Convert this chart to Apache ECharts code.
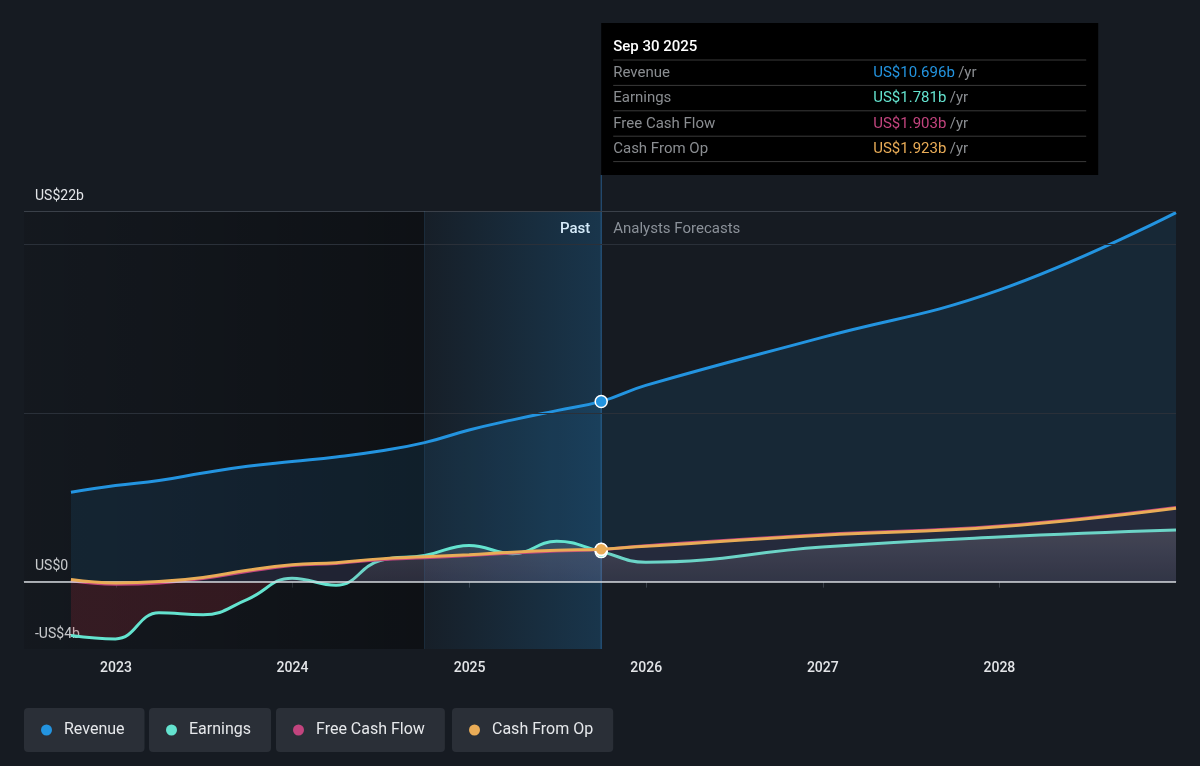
<!DOCTYPE html>
<html>
<head>
<meta charset="utf-8">
<script src="https://cdn.jsdelivr.net/npm/echarts@6/dist/echarts.min.js"></script>
<style>
  html, body { margin: 0; padding: 0; background: #161b22; }
  #chart { width: 1200px; height: 766px; }
</style>
</head>
<body>
<div id="chart"></div>
<script>
// reported quarters (trailing twelve months), then analyst forecast years
const pastDates = ['2022-09-30', '2022-12-31', '2023-03-31', '2023-06-30', '2023-09-30', '2023-12-31',
  '2024-03-31', '2024-06-30', '2024-09-30', '2024-12-31', '2025-03-31', '2025-06-30', '2025-09-30'];
const forecastDates = ['2025-12-31', '2026-12-31', '2027-12-31', '2028-12-31'];

// values in US$ billions
const revenuePast = [5.3, 5.7, 6.0, 6.45, 6.85, 7.13, 7.4, 7.75, 8.25, 9.0, 9.6, 10.15, 10.696];
const revenueForecast = [11.65, 14.5, 17.3, 21.9];
const earningsPast = [-3.2, -3.4, -1.85, -1.97, -1.05, 0.2, -0.22, 1.25, 1.55, 2.15, 1.66, 2.39, 1.781];
const earningsForecast = [1.15, 2.05, 2.65, 3.06];
const fcfPast = [0.05, -0.15, -0.08, 0.18, 0.6, 0.95, 1.08, 1.3, 1.42, 1.55, 1.7, 1.82, 1.903];
const fcfForecast = [2.13, 2.8, 3.3, 4.4];
const cfoPast = [0.12, -0.08, 0.0, 0.25, 0.68, 1.0, 1.12, 1.35, 1.47, 1.6, 1.75, 1.86, 1.923];
const cfoForecast = [2.1, 2.75, 3.25, 4.35];

const seriesNames = ['Revenue', 'Earnings', 'Free Cash Flow', 'Cash From Op'];
const seriesColors = ['#2394e0', '#64e3cf', '#c2447e', '#e9ac57'];

const axisStart = '2022-06-25';
const axisEnd = '2028-12-31';
const bandStart = '2024-09-30';

const yLabelValues = [-4, 0, 22];
const yLabelTexts = ['-US$4b', 'US$0', 'US$22b'];
const gridValues = [10, 20, 22];

const tipTitle = 'Sep 30 2025';
const tipValues = ['US$10.696b', 'US$1.781b', 'US$1.903b', 'US$1.923b'];

const allDates = pastDates.concat(forecastDates);
const nowDate = pastDates[pastDates.length - 1];

function pairs(past, forecast) {
  const vals = past.concat(forecast);
  return allDates.map((d, i) => [d, vals[i]]);
}

// earnings fill: grey above zero, red below zero
const eAll = earningsPast.concat(earningsForecast);
const eMax = Math.max(...eAll);
const eMin = Math.min(...eAll);
const zeroStop = eMax / (eMax - eMin);

function dot(color, value) {
  return {
    silent: true,
    symbol: 'circle',
    symbolSize: 12,
    label: { show: false },
    itemStyle: { color: color, borderColor: '#ffffff', borderWidth: 1.5 },
    data: [{ coord: [nowDate, value] }],
  };
}

const chart = echarts.init(document.getElementById('chart'));

const baseLine = {
  type: 'line',
  showSymbol: false,
  symbol: 'none',
  smooth: 0.45,
  silent: true,
  lineStyle: { width: 3 },
};

const option = {
  backgroundColor: '#161b22',
  animation: false,
  textStyle: { fontFamily: 'Roboto, sans-serif' },
  grid: { left: 24, right: 24, top: 211, bottom: 117 },
  xAxis: {
    type: 'time',
    min: axisStart,
    max: axisEnd,
    splitLine: { show: false },
    axisLine: { lineStyle: { color: '#3a4049', width: 1 } },
    axisTick: { length: 6, lineStyle: { color: '#3a4049' } },
    axisLabel: {
      color: '#e3e5e8',
      fontSize: 14,
      fontWeight: 500,
      margin: 12,
      showMinLabel: false,
      showMaxLabel: false,
      formatter: function (value) {
        const d = new Date(value);
        return d.getMonth() === 0 && d.getDate() === 1 ? String(d.getFullYear()) : '';
      },
    },
  },
  yAxis: {
    type: 'value',
    min: -4,
    max: 22,
    interval: 2,
    splitLine: { show: false },
    axisLine: { show: false },
    axisTick: { show: false },
    axisLabel: {
      inside: true,
      margin: 11,
      verticalAlign: 'bottom',
      padding: [0, 0, 8, 0],
      color: '#e3e5e8',
      fontSize: 14,
      formatter: function (v) {
        const i = yLabelValues.indexOf(v);
        return i >= 0 ? yLabelTexts[i] : '';
      },
    },
  },
  legend: seriesNames.map((n, i) => ({
    data: [n],
    left: [24, 149, 276, 452][i],
    top: 708,
    icon: 'circle',
    itemWidth: 11,
    itemHeight: 11,
    padding: [14, 20, 14, 17],
    backgroundColor: '#2a2f37',
    borderRadius: 4,
    selectedMode: false,
    textStyle: { color: '#e6e8eb', fontSize: 16, padding: [0, 0, 0, 7] },
  })),
  series: [
    {
      // background regions and grid lines
      name: 'bg',
      type: 'line',
      z: 1,
      silent: true,
      showSymbol: false,
      symbol: 'none',
      lineStyle: { opacity: 0 },
      data: pairs(revenuePast, revenueForecast),
      markArea: {
        silent: true,
        data: [
          [
            {
              xAxis: axisStart,
              itemStyle: {
                color: new echarts.graphic.LinearGradient(0, 0, 1, 0, [
                  { offset: 0, color: 'rgba(0,0,0,0.1)' },
                  { offset: 1, color: 'rgba(0,0,0,0.38)' },
                ]),
              },
            },
            { xAxis: bandStart },
          ],
          [
            {
              xAxis: bandStart,
              itemStyle: {
                color: new echarts.graphic.LinearGradient(0, 0, 1, 0, [
                  { offset: 0, color: 'rgba(35,148,224,0.03)' },
                  { offset: 1, color: 'rgba(35,148,224,0.22)' },
                ]),
              },
            },
            { xAxis: nowDate },
          ],
        ],
      },
      markLine: {
        silent: true,
        symbol: 'none',
        label: { show: false },
        data: gridValues.map((v) => ({
          yAxis: v,
          lineStyle: { color: v === 22 ? '#3a4049' : '#2a3039', width: 1, type: 'solid' },
        })).concat([
          { xAxis: bandStart, lineStyle: { color: 'rgba(60,120,170,0.22)', width: 1, type: 'solid' } },
          { yAxis: 0, lineStyle: { color: '#d5d9de', width: 1.5, type: 'solid' } },
        ]),
      },
    },
    Object.assign({}, baseLine, {
      name: 'Revenue',
      z: 2,
      color: seriesColors[0],
      data: pairs(revenuePast, revenueForecast),
      areaStyle: { color: 'rgba(35,148,224,0.15)' },
      markPoint: dot(seriesColors[0], revenuePast[revenuePast.length - 1]),
    }),
    Object.assign({}, baseLine, {
      name: 'Earnings',
      z: 3,
      color: seriesColors[1],
      data: pairs(earningsPast, earningsForecast),
      areaStyle: {
        color: new echarts.graphic.LinearGradient(0, 0, 0, 1, [
          { offset: 0, color: 'rgba(205,205,210,0.26)' },
          { offset: zeroStop, color: 'rgba(205,205,210,0.1)' },
          { offset: zeroStop, color: 'rgba(205,45,60,0.26)' },
          { offset: 1, color: 'rgba(205,45,60,0.26)' },
        ]),
      },
      markPoint: dot(seriesColors[1], earningsPast[earningsPast.length - 1]),
    }),
    Object.assign({}, baseLine, {
      name: 'Free Cash Flow',
      z: 4,
      color: seriesColors[2],
      data: pairs(fcfPast, fcfForecast),
      areaStyle: { color: 'rgba(194,68,126,0.13)' },
      markPoint: dot(seriesColors[2], fcfPast[fcfPast.length - 1]),
    }),
    Object.assign({}, baseLine, {
      name: 'Cash From Op',
      z: 5,
      color: seriesColors[3],
      data: pairs(cfoPast, cfoForecast),
      markPoint: dot(seriesColors[3], cfoPast[cfoPast.length - 1]),
    }),
  ],
};

chart.setOption(option);

// divider, Past / Forecast labels and the fixed tooltip box, anchored to the latest reported date
const xNow = chart.convertToPixel({ xAxisIndex: 0 }, nowDate);
const yBottom = chart.convertToPixel({ yAxisIndex: 0 }, -4);
const yTop = chart.convertToPixel({ yAxisIndex: 0 }, 22);
const tipTop = 23;
const tipW = 497;
const tipH = 152;
const rowH = 25.4;

const graphics = [
  {
    type: 'line',
    z: 1,
    silent: true,
    shape: { x1: xNow, y1: tipTop + tipH, x2: xNow, y2: yBottom },
    style: { stroke: 'rgba(45,115,175,0.75)', lineWidth: 1 },
  },
  {
    type: 'text',
    silent: true,
    x: xNow - 11,
    y: yTop + 18,
    style: { text: 'Past', fill: '#ffffff', font: '500 15px Roboto', align: 'right', verticalAlign: 'middle' },
  },
  {
    type: 'text',
    silent: true,
    x: xNow + 12,
    y: yTop + 18,
    style: { text: 'Analysts Forecasts', fill: '#8b9199', font: '15px Roboto', align: 'left', verticalAlign: 'middle' },
  },
  {
    type: 'rect',
    silent: true,
    z: 10,
    shape: { x: xNow, y: tipTop, width: tipW, height: tipH },
    style: { fill: '#000000' },
  },
  {
    type: 'text',
    silent: true,
    z: 11,
    x: xNow + 12,
    y: tipTop + 24,
    style: { text: tipTitle, fill: '#ffffff', font: '500 15px Roboto', verticalAlign: 'middle' },
  },
];

for (let i = 0; i <= 4; i++) {
  graphics.push({
    type: 'line',
    silent: true,
    z: 11,
    shape: { x1: xNow + 12, y1: tipTop + 37 + rowH * i, x2: xNow + tipW - 12, y2: tipTop + 37 + rowH * i },
    style: { stroke: '#3a3a3a', lineWidth: 1 },
  });
}
seriesNames.forEach((n, i) => {
  const yRow = tipTop + 50 + rowH * i;
  graphics.push({
    type: 'text',
    silent: true,
    z: 11,
    x: xNow + 12,
    y: yRow,
    style: { text: n, fill: '#8a8d91', font: '15px Roboto', verticalAlign: 'middle' },
  });
  graphics.push({
    type: 'text',
    silent: true,
    z: 11,
    x: xNow + 272,
    y: yRow,
    style: {
      text: '{v|' + tipValues[i] + '} {u|/yr}',
      verticalAlign: 'middle',
      rich: {
        v: { fill: seriesColors[i], font: '15px Roboto' },
        u: { fill: '#8a8d91', font: '15px Roboto' },
      },
    },
  });
});

chart.setOption({ graphic: graphics });
</script>
</body>
</html>
